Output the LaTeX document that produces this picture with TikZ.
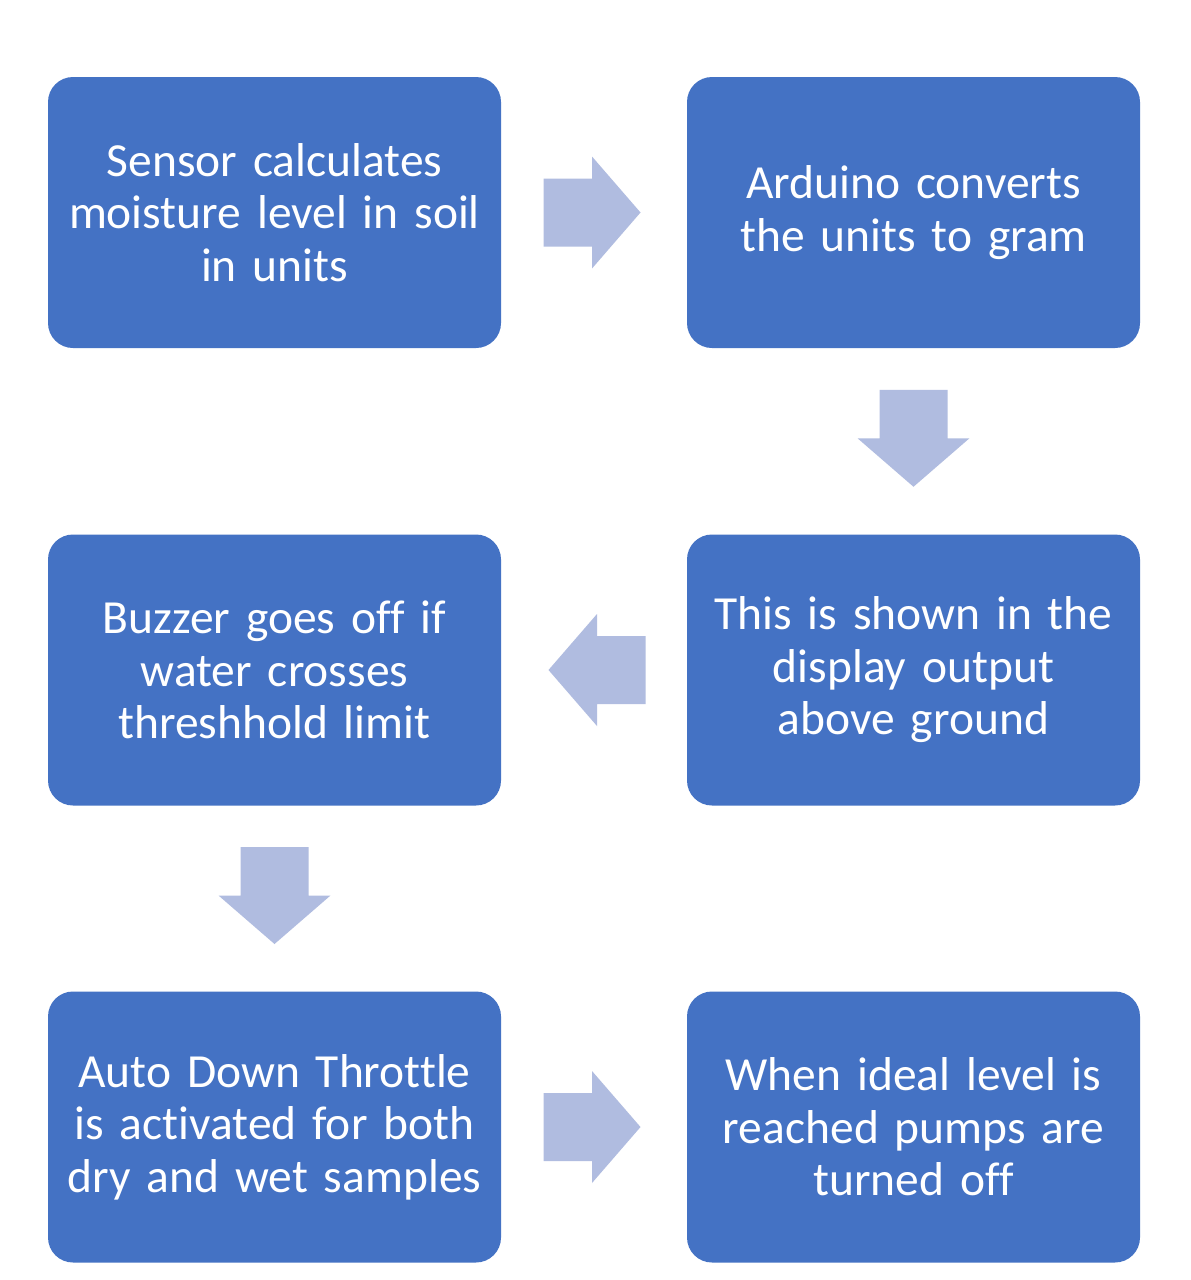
\documentclass[tikz,border=0pt]{standalone}
\usepackage{fontspec}
\setmainfont{Carlito}[Ligatures=NoCommon]
\usetikzlibrary{calc}
\definecolor{boxblue}{RGB}{68,114,196}
\definecolor{arrowfill}{RGB}{176,188,224}
\tikzset{
  box/.style={fill=boxblue, draw=none, rounded corners=25pt, minimum width=453pt, minimum height=271pt,
    text width=450pt, align=center, text=white, inner sep=0pt,
    font=\fontsize{47.5}{52.5}\selectfont},
  rarrow/.pic={\fill[arrowfill] (-48.5,-34) -- (0,-34) -- (0,-56) -- (48.5,0) -- (0,56) -- (0,34) -- (-48.5,34) -- cycle;}
}
\begin{document}
\begin{tikzpicture}[x=1pt,y=1pt]
\fill[white] (0,0) rectangle (1191,-1280);
\useasboundingbox (0,0) rectangle (1191,-1280);
\node[box] (b1) at (274.5,-212.5) {Sensor calculates\\moisture level in soil\\in units};
\node[box] (b2) at (913.5,-212.5) {Arduino converts\\the units to gram};
\node[box] (b3) at (913.5,-670) {This is shown in the\\display output\\above ground};
\node[box] (b4) at (274.5,-670) {Buzzer goes off if\\water crosses\\threshhold limit};
\node[box] (b5) at (274.5,-1127) {Auto Down Throttle\\is activated for both\\dry and wet samples};
\node[box] (b6) at (913.5,-1127) {When ideal level is\\reached pumps are\\turned off};
\coordinate (a1) at ($(b1.east)!0.5!(b2.west)+(-2,0)$);
\coordinate (a2) at ($(b2.south)!0.5!(b3.north)+(0,3)$);
\coordinate (a3) at ($(b3.west)!0.5!(b4.east)+(3,0)$);
\coordinate (a4) at ($(b4.south)!0.5!(b5.north)+(0,3)$);
\coordinate (a5) at ($(b5.east)!0.5!(b6.west)+(-2,0)$);
\pic at (a1) {rarrow};
\pic[rotate=-90] at (a2) {rarrow};
\pic[rotate=180] at (a3) {rarrow};
\pic[rotate=-90] at (a4) {rarrow};
\pic at (a5) {rarrow};
\end{tikzpicture}
\end{document}
